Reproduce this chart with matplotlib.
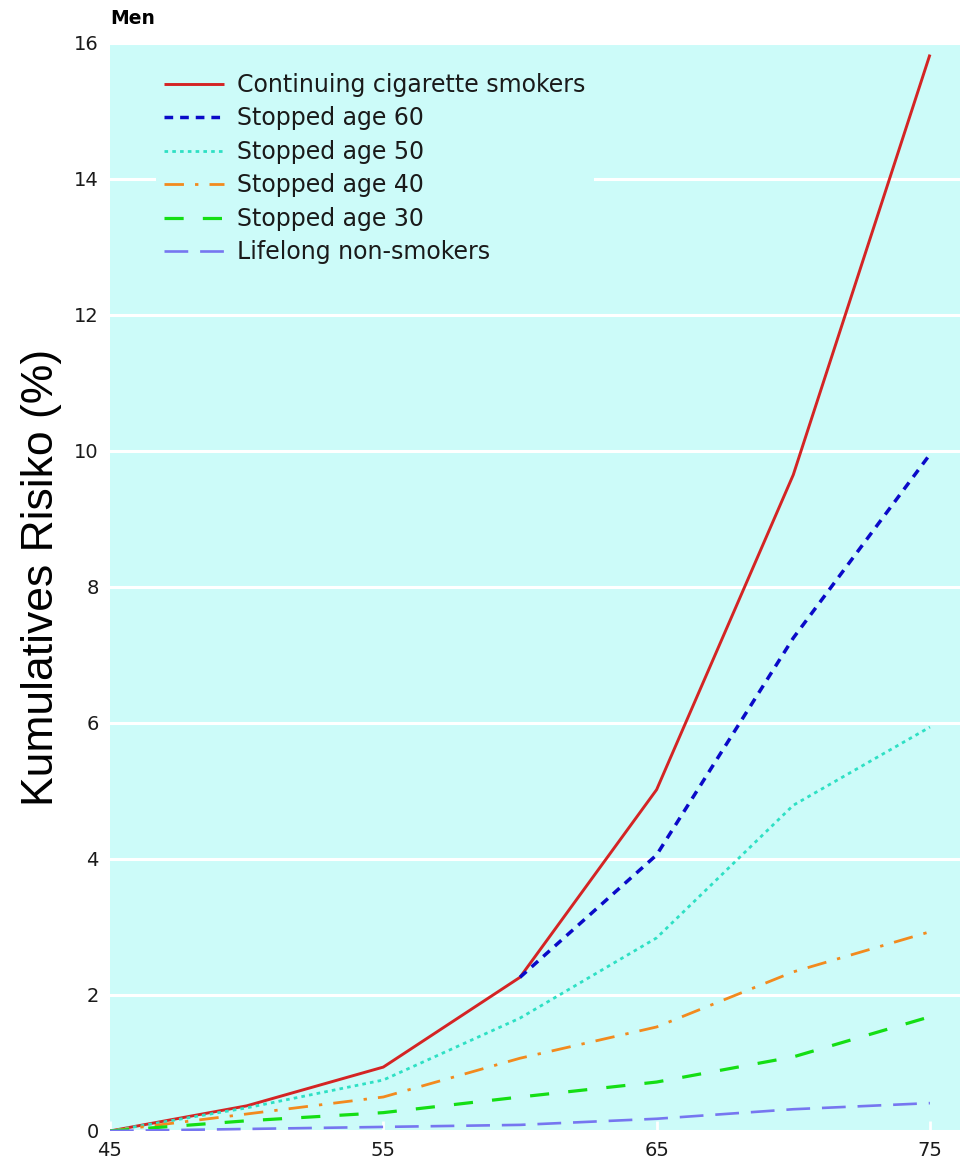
import matplotlib
matplotlib.use("Agg")
import matplotlib.pyplot as plt

# cumulative risk (%) by age, men
ages = [45, 50, 55, 60, 65, 70, 75]
continuing = [0, 0.37, 0.94, 2.26, 5.02, 9.65, 15.83]
ages_60 = [60, 65, 70, 75]
stopped_60 = [2.26, 4.06, 7.25, 9.95]
stopped_50 = [0, 0.34, 0.75, 1.66, 2.84, 4.79, 5.94]
stopped_40 = [0, 0.25, 0.50, 1.07, 1.53, 2.34, 2.93]
stopped_30 = [0, 0.15, 0.27, 0.50, 0.72, 1.09, 1.68]
non_smokers = [0, 0.03, 0.06, 0.09, 0.18, 0.32, 0.41]

x_ticks = [45, 55, 65, 75]
y_ticks = [0, 2, 4, 6, 8, 10, 12, 14, 16]

bg = "#ccfbf9"

fig = plt.figure(figsize=(9.6, 11.61), dpi=100)
ax = fig.add_axes([110 / 960, 1 - 1131 / 1161, 850 / 960, 1088 / 1161])
ax.set_facecolor(bg)

ax.plot(ages, continuing, color="#d42424", lw=2.1, label="Continuing cigarette smokers",
        solid_capstyle="butt")
ax.plot(ages_60, stopped_60, color="#0a0ac8", lw=2.5, dashes=(2.5, 2.0),
        label="Stopped age 60")
ax.plot(ages, stopped_50, color="#2ee0c4", lw=2.0, dashes=(1.3, 1.5),
        label="Stopped age 50")
ax.plot(ages, stopped_40, color="#f28a1e", lw=2.0, dashes=(7, 4, 1.2, 4),
        label="Stopped age 40")
ax.plot(ages, stopped_30, color="#14de14", lw=2.3, dashes=(6, 6),
        label="Stopped age 30")
ax.plot(ages, non_smokers, color="#7676f0", lw=1.9, dashes=(9, 4.5),
        label="Lifelong non-smokers")

ax.set_xlim(45, 76.1)
ax.set_ylim(0, 16)
ax.set_xticks(x_ticks)
ax.set_yticks(y_ticks)
ax.grid(axis="y", color="white", lw=2.2)
ax.set_axisbelow(True)
for s in ax.spines.values():
    s.set_visible(False)

tick_font = {"family": "DejaVu Sans", "size": 14}
ax.set_xticklabels([str(t) for t in x_ticks], fontdict=tick_font, color="#1a1a1a")
ax.set_yticklabels([str(t) for t in y_ticks], fontdict=tick_font, color="#1a1a1a")
ax.tick_params(axis="x", direction="in", length=7, width=2, colors="white", pad=7,
               labelcolor="#1a1a1a")
ax.tick_params(axis="y", length=0, pad=8)

ax.set_ylabel("Kumulatives Risiko (%)", fontsize=32, family="Liberation Sans")
ax.yaxis.set_label_coords(-0.056, 0.509)

leg = ax.legend(loc="upper left", bbox_to_anchor=(0.054, 0.980), borderaxespad=0,
                prop={"family": "DejaVu Sans", "size": 17}, handlelength=2.55,
                handletextpad=0.55, labelspacing=0.4, borderpad=0.35,
                frameon=True, fancybox=False)
leg.get_frame().set_facecolor(bg)
leg.get_frame().set_edgecolor("none")
leg.get_frame().set_alpha(1)
for t in leg.get_texts():
    t.set_color("#1a1a1a")

fig.text(110 / 960, 1 - 18 / 1161, "Men", fontsize=13.5, fontweight="bold",
         family="DejaVu Sans", va="center", ha="left")

fig.savefig("out.png", dpi=100, facecolor="white")
